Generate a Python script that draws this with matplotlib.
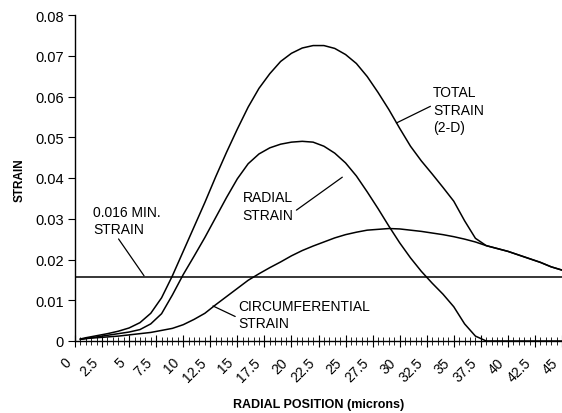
import matplotlib
matplotlib.use("Agg")
import matplotlib.pyplot as plt
import matplotlib.transforms as mtransforms
from matplotlib.ticker import MultipleLocator, FixedLocator

plt.rcParams['font.family'] = ['Liberation Sans', 'DejaVu Sans']

# radial position (microns)
position = [0.5] + list(range(1, 46))

total_strain = [0.0005, 0.0008, 0.0013, 0.0018, 0.0024, 0.0032, 0.0045, 0.0068, 0.0106, 0.0160,
                0.0220, 0.0280, 0.0340, 0.0403, 0.0463, 0.0520, 0.0574, 0.0620, 0.0656, 0.0686,
                0.0706, 0.0719, 0.0725, 0.0725, 0.0718, 0.0703, 0.0681, 0.0649, 0.0610, 0.0568,
                0.0522, 0.0478, 0.0442, 0.0410, 0.0377, 0.0343, 0.0295, 0.0252, 0.0234, 0.0227,
                0.0220, 0.0211, 0.0202, 0.0193, 0.0182, 0.0174]

radial_strain = [0.0004, 0.0006, 0.0010, 0.0014, 0.0018, 0.0022, 0.0028, 0.0042, 0.0067, 0.0113,
                 0.0163, 0.0208, 0.0254, 0.0303, 0.0352, 0.0398, 0.0435, 0.0459, 0.0474, 0.0483,
                 0.0488, 0.0490, 0.0488, 0.0478, 0.0461, 0.0437, 0.0405, 0.0366, 0.0325, 0.0282,
                 0.0241, 0.0204, 0.0171, 0.0142, 0.0115, 0.0084, 0.0042, 0.0012, 0.0, 0.0,
                 0.0, 0.0, 0.0, 0.0, 0.0, 0.0]

circ_strain = [0.0004, 0.0006, 0.0008, 0.0010, 0.0012, 0.0015, 0.0018, 0.0021, 0.0026, 0.0031,
               0.0040, 0.0053, 0.0068, 0.0089, 0.0109, 0.0129, 0.0149, 0.0165, 0.0180, 0.0194,
               0.0209, 0.0222, 0.0233, 0.0243, 0.0253, 0.0261, 0.0267, 0.0272, 0.0274, 0.0276,
               0.0275, 0.0272, 0.0269, 0.0265, 0.0261, 0.0256, 0.0250, 0.0243, 0.0234, 0.0227,
               0.0220, 0.0211, 0.0202, 0.0193, 0.0182, 0.0174]

min_strain = 0.0158

x_tick_values = [i * 2.5 for i in range(19)]
x_tick_labels = ['0', '2.5', '5', '7.5', '10', '12.5', '15', '17.5', '20', '22.5', '25',
                 '27.5', '30', '32.5', '35', '37.5', '40', '42.5', '45']
y_tick_values = [0, 0.01, 0.02, 0.03, 0.04, 0.05, 0.06, 0.07, 0.08]
y_tick_labels = ['0', '0.01', '0.02', '0.03', '0.04', '0.05', '0.06', '0.07', '0.08']

fig = plt.figure(figsize=(5.62, 4.14), dpi=100)
ax = fig.add_axes([75 / 562, 72 / 414, 487 / 562, 326 / 414])

lw = 1.1
ax.plot(position, total_strain, color='black', lw=lw)
ax.plot(position, radial_strain, color='black', lw=lw)
ax.plot(position, circ_strain, color='black', lw=lw)
ax.axhline(min_strain, color='black', lw=lw)

ax.set_xlim(0, 45)
ax.set_ylim(0, 0.08)

for s in ['top', 'right']:
    ax.spines[s].set_visible(False)
for s in ['left', 'bottom']:
    ax.spines[s].set_linewidth(1.0)

ax.set_yticks(y_tick_values)
ax.set_yticklabels(y_tick_labels, fontsize=10.5)
ax.tick_params(axis='y', direction='out', length=5, width=0.8, pad=3)

ax.xaxis.set_major_locator(FixedLocator(x_tick_values))
ax.xaxis.set_minor_locator(MultipleLocator(0.5))
ax.set_xticklabels(x_tick_labels, fontsize=10, rotation=45, ha='right',
                   va='center', rotation_mode='anchor')
ax.tick_params(axis='x', which='major', direction='inout', length=9, width=0.8, pad=9)
ax.tick_params(axis='x', which='minor', direction='inout', length=6, width=0.6)
offset = mtransforms.ScaledTranslation(-6 / 100, 0, fig.dpi_scale_trans)
for lab in ax.get_xticklabels():
    lab.set_transform(lab.get_transform() + offset)

fig.text(20 / 562, 1 - 180 / 414, 'STRAIN', rotation=90, fontsize=8.5, fontweight='bold',
         ha='center', va='center')
fig.text(319 / 562, 1 - 405 / 414, 'RADIAL POSITION (microns)', fontsize=9,
         fontweight='bold', ha='center', va='center')

fs = 10
ls = 1.3
ax.annotate('0.016 MIN.\nSTRAIN', xy=(6.38, 0.016), xytext=(1.66, 0.0334),
            fontsize=fs, ha='left', va='top', linespacing=ls,
            arrowprops=dict(arrowstyle='-', lw=0.9, color='black',
                            shrinkA=0, shrinkB=0, relpos=(0.35, 0.0)))
ax.annotate('RADIAL\nSTRAIN', xy=(24.7, 0.0402), xytext=(15.5, 0.0370),
            fontsize=fs, ha='left', va='top', linespacing=ls,
            arrowprops=dict(arrowstyle='-', lw=0.9, color='black',
                            shrinkA=0, shrinkB=0, relpos=(1.0, 0.3)))
ax.annotate('TOTAL\nSTRAIN\n(2-D)', xy=(29.7, 0.0535), xytext=(33.1, 0.0627),
            fontsize=fs, ha='left', va='top', linespacing=ls,
            arrowprops=dict(arrowstyle='-', lw=0.9, color='black',
                            shrinkA=0, shrinkB=0, relpos=(0.0, 0.6)))
ax.annotate('CIRCUMFERENTIAL\nSTRAIN', xy=(12.75, 0.0086), xytext=(15.06, 0.0103),
            fontsize=fs, ha='left', va='top', linespacing=ls,
            arrowprops=dict(arrowstyle='-', lw=0.9, color='black',
                            shrinkA=0, shrinkB=0, relpos=(0.0, 0.4)))

fig.savefig('out.png', dpi=100)
